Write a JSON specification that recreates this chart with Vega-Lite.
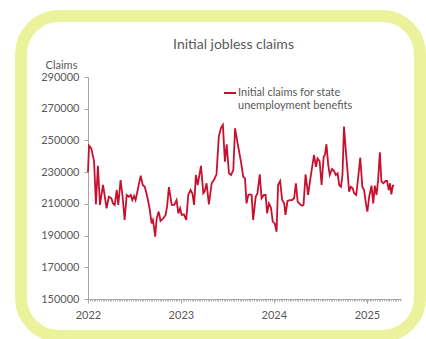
{
  "$schema": "https://vega.github.io/schema/vega-lite/v6.json",
  "width": 399,
  "height": 320,
  "autosize": {"type": "none"},
  "padding": {"left": 21, "top": 16, "right": 6, "bottom": 3},
  "background": "white",
  "title": {"text": "Initial jobless claims", "offset": -36, "fontSize": 14, "font": "Lato", "fontWeight": "normal", "color": "#595959", "anchor": "middle", "dx": 13},
  "config": {
    "view": {"stroke": "#eaf39b", "strokeWidth": 12, "cornerRadius": 38},
    "font": "Lato"
  },
  "data": {"values": [
    {"date": "2022-01-01", "claims": 230000},
    {"date": "2022-01-05", "claims": 246700},
    {"date": "2022-01-14", "claims": 245000},
    {"date": "2022-01-25", "claims": 236600},
    {"date": "2022-02-01", "claims": 209700},
    {"date": "2022-02-09", "claims": 234000},
    {"date": "2022-02-17", "claims": 209300},
    {"date": "2022-03-01", "claims": 221900},
    {"date": "2022-03-08", "claims": 214500},
    {"date": "2022-03-15", "claims": 207200},
    {"date": "2022-03-24", "claims": 214500},
    {"date": "2022-04-03", "claims": 213500},
    {"date": "2022-04-09", "claims": 210300},
    {"date": "2022-04-16", "claims": 209300},
    {"date": "2022-04-24", "claims": 218700},
    {"date": "2022-04-30", "claims": 209300},
    {"date": "2022-05-09", "claims": 225000},
    {"date": "2022-05-17", "claims": 214500},
    {"date": "2022-05-25", "claims": 199800},
    {"date": "2022-06-02", "claims": 215600},
    {"date": "2022-06-11", "claims": 214500},
    {"date": "2022-06-18", "claims": 215600},
    {"date": "2022-06-24", "claims": 212400},
    {"date": "2022-07-01", "claims": 215000},
    {"date": "2022-07-07", "claims": 212400},
    {"date": "2022-07-14", "claims": 217700},
    {"date": "2022-07-27", "claims": 227800},
    {"date": "2022-08-04", "claims": 221900},
    {"date": "2022-08-12", "claims": 220800},
    {"date": "2022-08-22", "claims": 214500},
    {"date": "2022-08-31", "claims": 207200},
    {"date": "2022-09-08", "claims": 197700},
    {"date": "2022-09-13", "claims": 199800},
    {"date": "2022-09-17", "claims": 195600},
    {"date": "2022-09-22", "claims": 189300},
    {"date": "2022-09-28", "claims": 200900},
    {"date": "2022-10-06", "claims": 205100},
    {"date": "2022-10-13", "claims": 199200},
    {"date": "2022-10-24", "claims": 200900},
    {"date": "2022-11-02", "claims": 203000},
    {"date": "2022-11-08", "claims": 208700},
    {"date": "2022-11-15", "claims": 220500},
    {"date": "2022-11-26", "claims": 209300},
    {"date": "2022-12-06", "claims": 209300},
    {"date": "2022-12-15", "claims": 212400},
    {"date": "2022-12-22", "claims": 204000},
    {"date": "2022-12-29", "claims": 207200},
    {"date": "2023-01-04", "claims": 203000},
    {"date": "2023-01-13", "claims": 203400},
    {"date": "2023-01-22", "claims": 199800},
    {"date": "2023-01-30", "claims": 215600},
    {"date": "2023-02-08", "claims": 218700},
    {"date": "2023-02-15", "claims": 216700},
    {"date": "2023-02-22", "claims": 209300},
    {"date": "2023-03-01", "claims": 228200},
    {"date": "2023-03-08", "claims": 221900},
    {"date": "2023-03-21", "claims": 234000},
    {"date": "2023-03-30", "claims": 216700},
    {"date": "2023-04-05", "claims": 218100},
    {"date": "2023-04-12", "claims": 223000},
    {"date": "2023-04-21", "claims": 209700},
    {"date": "2023-05-02", "claims": 223000},
    {"date": "2023-05-11", "claims": 225000},
    {"date": "2023-05-21", "claims": 228600},
    {"date": "2023-05-30", "claims": 252400},
    {"date": "2023-06-07", "claims": 257600},
    {"date": "2023-06-15", "claims": 259700},
    {"date": "2023-06-23", "claims": 236600},
    {"date": "2023-06-30", "claims": 247600},
    {"date": "2023-07-09", "claims": 229300},
    {"date": "2023-07-17", "claims": 228200},
    {"date": "2023-07-26", "claims": 231300},
    {"date": "2023-08-02", "claims": 257600},
    {"date": "2023-08-12", "claims": 248100},
    {"date": "2023-08-25", "claims": 236600},
    {"date": "2023-09-03", "claims": 227100},
    {"date": "2023-09-10", "claims": 226100},
    {"date": "2023-09-16", "claims": 210300},
    {"date": "2023-09-23", "claims": 215600},
    {"date": "2023-09-29", "claims": 216000},
    {"date": "2023-10-06", "claims": 215600},
    {"date": "2023-10-12", "claims": 199800},
    {"date": "2023-10-22", "claims": 214500},
    {"date": "2023-10-29", "claims": 216700},
    {"date": "2023-11-07", "claims": 228600},
    {"date": "2023-11-14", "claims": 213500},
    {"date": "2023-11-23", "claims": 215600},
    {"date": "2023-11-30", "claims": 215600},
    {"date": "2023-12-06", "claims": 204000},
    {"date": "2023-12-13", "claims": 210300},
    {"date": "2023-12-21", "claims": 207600},
    {"date": "2023-12-28", "claims": 198800},
    {"date": "2024-01-05", "claims": 197700},
    {"date": "2024-01-12", "claims": 192400},
    {"date": "2024-01-18", "claims": 221900},
    {"date": "2024-01-26", "claims": 224400},
    {"date": "2024-02-03", "claims": 212400},
    {"date": "2024-02-11", "claims": 210300},
    {"date": "2024-02-16", "claims": 203000},
    {"date": "2024-02-24", "claims": 211800},
    {"date": "2024-03-04", "claims": 212400},
    {"date": "2024-03-13", "claims": 212400},
    {"date": "2024-03-21", "claims": 213500},
    {"date": "2024-03-28", "claims": 223000},
    {"date": "2024-04-04", "claims": 211400},
    {"date": "2024-04-13", "claims": 209700},
    {"date": "2024-04-22", "claims": 208800},
    {"date": "2024-04-27", "claims": 209300},
    {"date": "2024-05-05", "claims": 228600},
    {"date": "2024-05-15", "claims": 215600},
    {"date": "2024-05-23", "claims": 225000},
    {"date": "2024-06-07", "claims": 240800},
    {"date": "2024-06-15", "claims": 233400},
    {"date": "2024-06-21", "claims": 238700},
    {"date": "2024-06-29", "claims": 237000},
    {"date": "2024-07-07", "claims": 221900},
    {"date": "2024-07-15", "claims": 239700},
    {"date": "2024-07-20", "claims": 240800},
    {"date": "2024-07-26", "claims": 247600},
    {"date": "2024-08-02", "claims": 234500},
    {"date": "2024-08-08", "claims": 228200},
    {"date": "2024-08-17", "claims": 232000},
    {"date": "2024-08-24", "claims": 231000},
    {"date": "2024-09-01", "claims": 228200},
    {"date": "2024-09-08", "claims": 229200},
    {"date": "2024-09-14", "claims": 221900},
    {"date": "2024-09-21", "claims": 220800},
    {"date": "2024-09-27", "claims": 228200},
    {"date": "2024-10-03", "claims": 258700},
    {"date": "2024-10-10", "claims": 243900},
    {"date": "2024-10-17", "claims": 230300},
    {"date": "2024-10-23", "claims": 217700},
    {"date": "2024-10-30", "claims": 220800},
    {"date": "2024-11-06", "claims": 219800},
    {"date": "2024-11-12", "claims": 216700},
    {"date": "2024-11-20", "claims": 215600},
    {"date": "2024-11-28", "claims": 227100},
    {"date": "2024-12-06", "claims": 239100},
    {"date": "2024-12-14", "claims": 220800},
    {"date": "2024-12-21", "claims": 218700},
    {"date": "2024-12-29", "claims": 209300},
    {"date": "2025-01-03", "claims": 205100},
    {"date": "2025-01-10", "claims": 214500},
    {"date": "2025-01-19", "claims": 221500},
    {"date": "2025-01-26", "claims": 210300},
    {"date": "2025-02-01", "claims": 221500},
    {"date": "2025-02-08", "claims": 215600},
    {"date": "2025-02-14", "claims": 225000},
    {"date": "2025-02-21", "claims": 242500},
    {"date": "2025-02-27", "claims": 224000},
    {"date": "2025-03-07", "claims": 223000},
    {"date": "2025-03-15", "claims": 224400},
    {"date": "2025-03-21", "claims": 224400},
    {"date": "2025-03-28", "claims": 218700},
    {"date": "2025-04-02", "claims": 223000},
    {"date": "2025-04-07", "claims": 216000},
    {"date": "2025-04-13", "claims": 221500},
    {"date": "2025-04-18", "claims": 221500}
  ]},
  "layer": [
    {
      "mark": {"type": "line", "strokeOpacity": 0},
      "encoding": {
        "x": {"field": "date", "type": "temporal",
          "scale": {"type": "utc", "domain": ["2022-01-01", "2025-05-15"], "range": [67, 380], "nice": false},
          "axis": {"orient": "bottom", "offset": -37, "title": null, "tickCount": {"interval": "week", "step": 1}, "labels": false, "domain": false, "tickSize": 2, "tickColor": "#b0b0b0", "grid": false}},
        "y": {"field": "claims", "type": "quantitative",
          "scale": {"domain": [150000, 290000], "range": [283, 61], "nice": false, "zero": false},
          "axis": {"offset": -67, "values": [150000, 170000, 190000, 210000, 230000, 250000, 270000, 290000], "format": "d",
            "title": "Claims", "titleAngle": 0, "titleAlign": "center", "titleBaseline": "middle", "titleX": -27, "titleY": 49,
            "titleFont": "Lato", "titleFontSize": 11, "titleFontWeight": "normal", "titleColor": "#595959",
            "labelFont": "Lato", "labelFontSize": 11, "labelColor": "#595959", "labelPadding": 5, "tickSize": 4, "tickColor": "#a6a6a6", "domainColor": "#a6a6a6", "grid": false}}
      }
    },
    {
      "mark": {"type": "line", "strokeWidth": 1.8},
      "encoding": {
        "x": {"field": "date", "type": "temporal",
          "scale": {"type": "utc", "domain": ["2022-01-01", "2025-05-15"], "range": [67, 380], "nice": false},
          "axis": {"orient": "bottom", "offset": -37, "title": null, "tickCount": {"interval": "year", "step": 1}, "format": "%Y",
            "labelFont": "Lato", "labelFontSize": 11, "labelColor": "#595959", "labelPadding": 6, "tickSize": 4, "tickColor": "#a6a6a6", "domainColor": "#a6a6a6", "grid": false, "labelFlush": false}},
        "y": {"field": "claims", "type": "quantitative"},
        "color": {"datum": "Initial claims for state unemployment benefits", "type": "nominal",
          "scale": {"range": ["#c8102e"]},
          "legend": {"orient": "none", "legendX": 202, "legendY": 70, "title": null, "symbolType": "stroke", "symbolSize": 144, "symbolStrokeWidth": 2,
            "labelExpr": "['Initial claims for state', 'unemployment benefits']", "labelLimit": 0, "labelOffset": 1,
            "labelFont": "Lato", "labelFontSize": 11, "labelColor": "#595959", "labelBaseline": "middle"}}
      }
    }
  ],
  "resolve": {"axis": {"x": "independent"}}
}
